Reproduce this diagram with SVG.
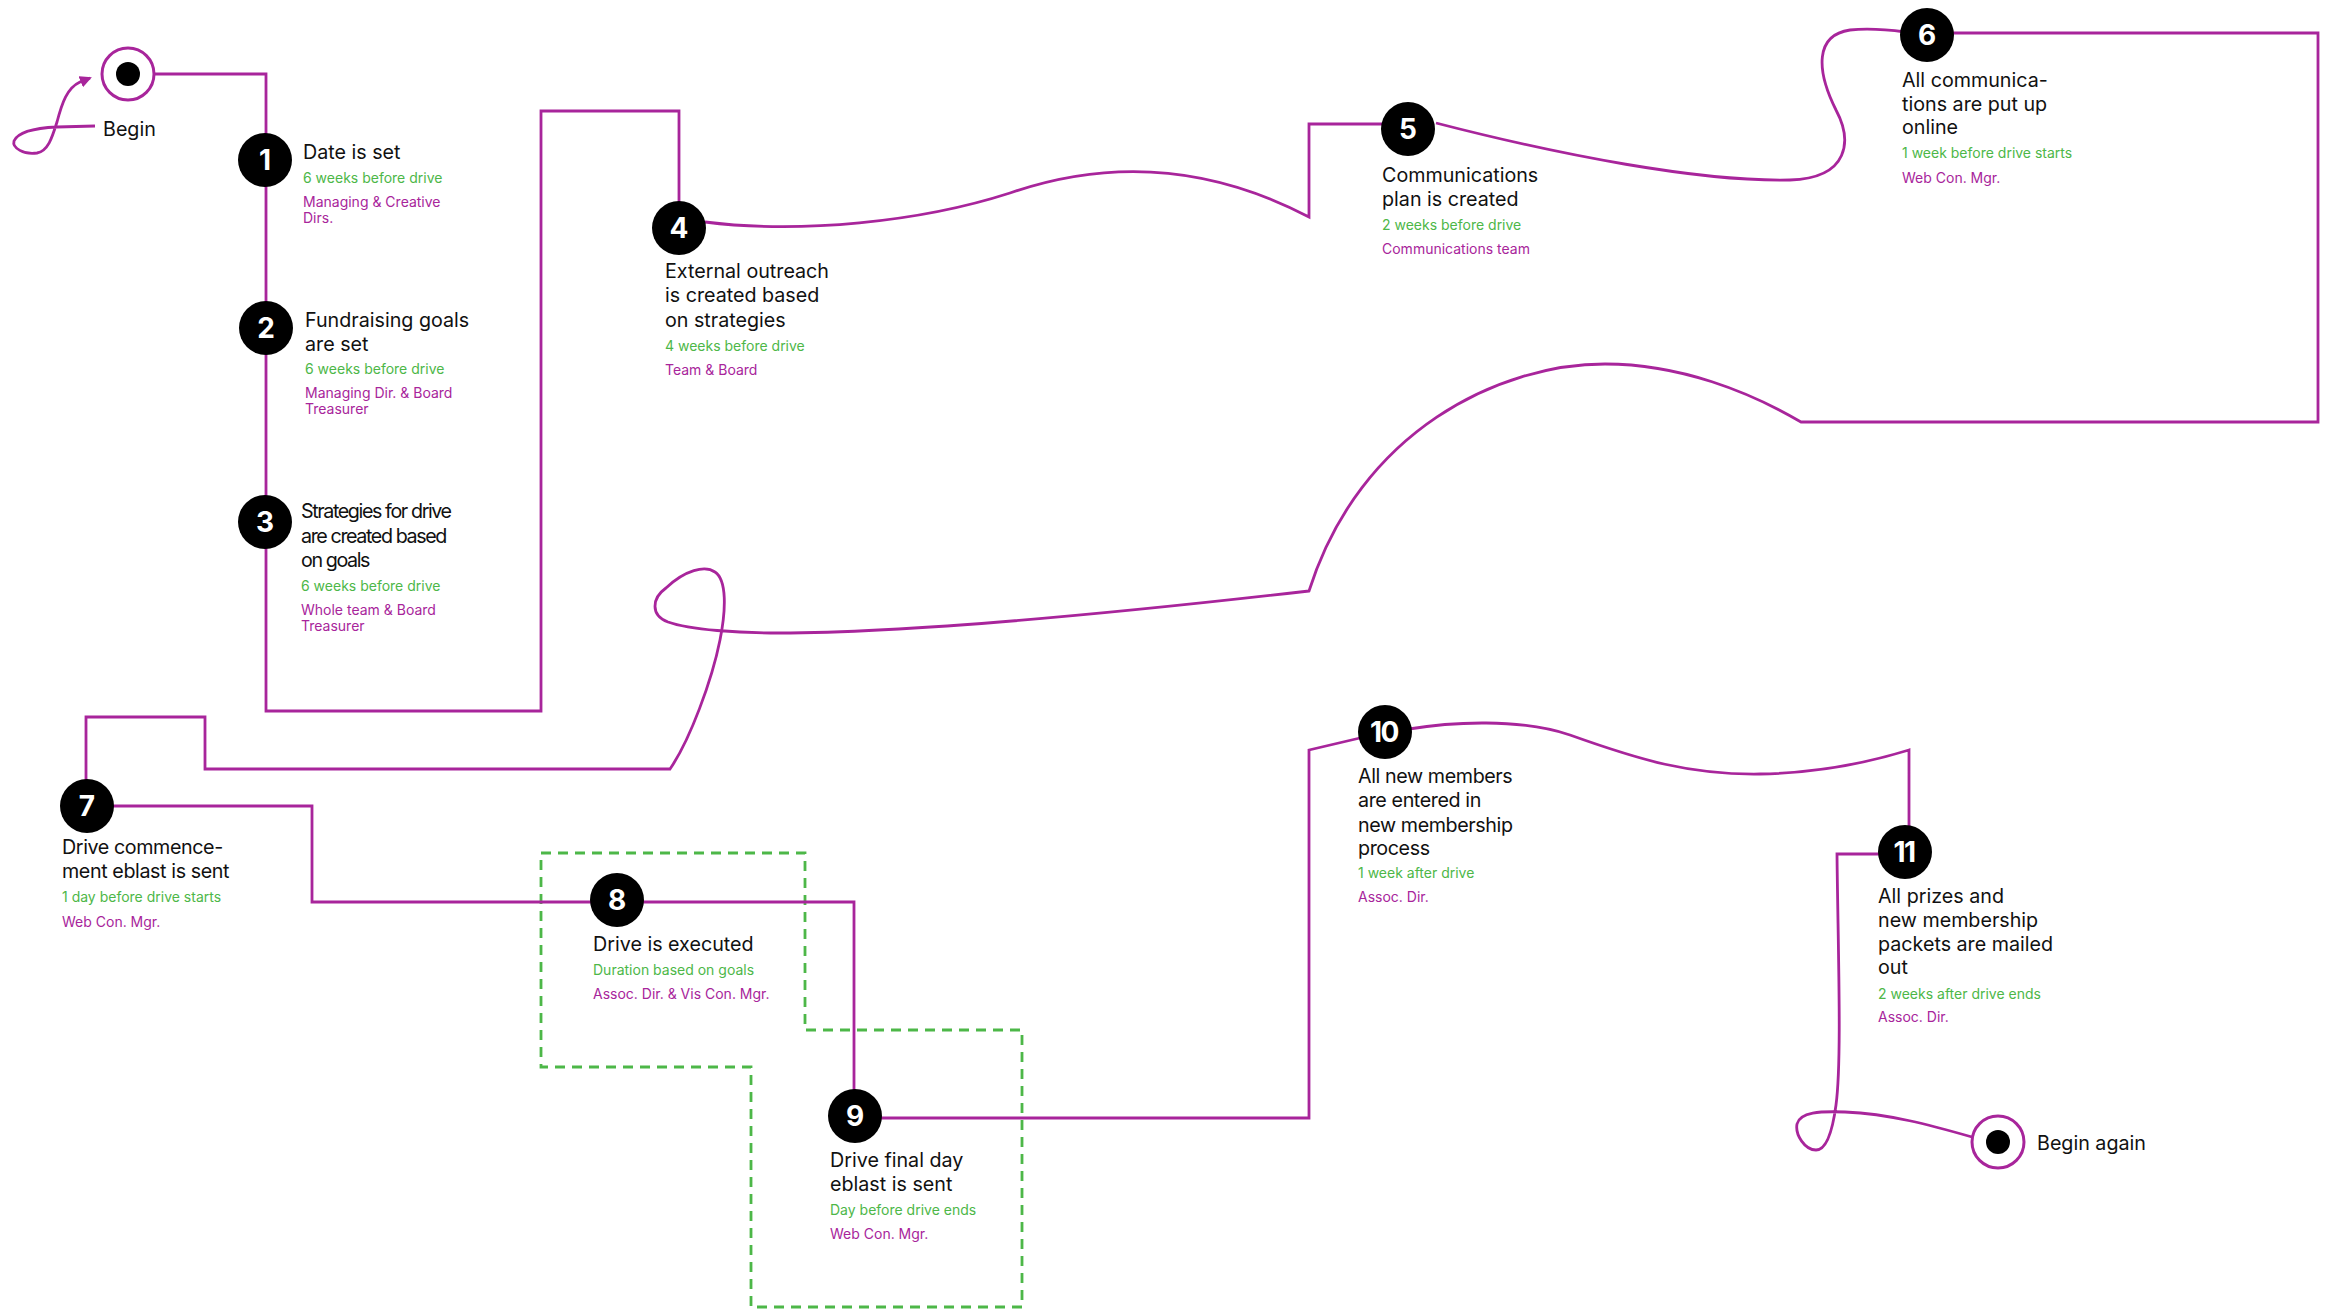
<svg xmlns="http://www.w3.org/2000/svg" width="2327" height="1309" viewBox="0 0 2327 1309">
  <defs>
    <style>
      .wire { fill: none; stroke: #a8259b; stroke-width: 2.8; stroke-linejoin: miter; }
      .frame { fill: none; stroke: #4db748; stroke-width: 2.8; stroke-dasharray: 10 7; }
      .dot { fill: #000; }
      .num { fill: #fff; font-family: Inter, "Liberation Sans", sans-serif; font-weight: 700; font-size: 28px; text-anchor: middle; }
      .title { fill: #111; font-family: Inter, "Liberation Sans", sans-serif; font-size: 19.7px; }
      .narrow { letter-spacing: -1.4px; }
      .tight { letter-spacing: -0.4px; }
      .pair { letter-spacing: -1.5px; }
      .when { fill: #4db748; font-family: Inter, "Liberation Sans", sans-serif; font-size: 14px; }
      .who { fill: #a8259b; font-family: Inter, "Liberation Sans", sans-serif; font-size: 14px; }
      .ring { fill: #fff; stroke: #a8259b; stroke-width: 3; }
    </style>
    <marker id="tip" viewBox="0 0 12 12" refX="10" refY="6" markerWidth="12" markerHeight="12" markerUnits="userSpaceOnUse" orient="auto">
      <path d="M0 0 L12 6 L0 12 z" fill="#a8259b"/>
    </marker>
  </defs>

  <!-- dashed grouping frame around steps 8 and 9 -->
  <path class="frame" d="M541 853 L805 853 L805 1030 L1022 1030 L1022 1307 L751 1307 L751 1067 L541 1067 Z"/>

  <!-- connectors -->
  <g id="connectors">
    <path class="wire" marker-end="url(#tip)" d="M95 126 L57 127 C35 128 18 132 14 141 C12 148 24 155 37 153 C48 151 52 138 57 122 C62 103 67 88 80 82 L90 78"/>
    <path class="wire" d="M155 74 L266 74 L266 711 L541 711 L541 111 L679 111 L679 228"/>
    <path class="wire" d="M705 222 C800 234 920 222 1010 193 C1100 162 1200 160 1309 217 L1309 124 L1408 124"/>
    <path class="wire" d="M1436 123 C1560 155 1700 182 1790 180 C1850 178 1852 140 1836 110 C1816 70 1815 35 1850 30 C1870 28 1890 30 1905 32"/>
    <path class="wire" d="M1927 33 L2318 33 L2318 422 L1801 422 C1750 392 1680 364 1605 364 C1500 364 1360 430 1309 591 C1100 615 900 633 779 633 C740 633 690 630 668 622 C650 615 652 598 666 588 C685 570 705 565 715 572 C727 580 726 610 720 640 C712 680 690 740 670 769 L205 769 L205 717 L86 717 L86 806"/>
    <path class="wire" d="M86 806 L312 806 L312 902 L854 902 L854 1118 L1309 1118 L1309 750 L1360 738"/>
    <path class="wire" d="M1409 729 C1450 722 1520 718 1570 735 C1640 760 1690 775 1760 774 C1820 773 1870 762 1909 750 L1909 830"/>
    <path class="wire" d="M1905 854 L1837 854 C1838 950 1842 1060 1836 1105 C1832 1135 1825 1150 1816 1150 C1805 1150 1795 1135 1797 1124 C1800 1112 1820 1111 1845 1112 C1890 1114 1930 1125 1972 1137"/>
  </g>

  <!-- start point -->
  <g id="begin">
    <circle class="ring" cx="128" cy="74" r="26"/>
    <circle class="dot" cx="128" cy="74" r="12"/>
    <text class="title" x="103" y="136">Begin</text>
  </g>

  <g id="step1">
    <circle class="dot" cx="265" cy="160" r="27"/>
    <text class="num" x="265" y="170">1</text>
    <text class="title" x="303" y="159">Date is set</text>
    <text class="when" x="303" y="183">6 weeks before drive</text>
    <text class="who" x="303" y="207">Managing &amp; Creative</text>
    <text class="who" x="303" y="223">Dirs.</text>
  </g>

  <g id="step2">
    <circle class="dot" cx="266" cy="328" r="27"/>
    <text class="num" x="266" y="338">2</text>
    <text class="title" x="305" y="327">Fundraising goals</text>
    <text class="title" x="305" y="351">are set</text>
    <text class="when" x="305" y="374">6 weeks before drive</text>
    <text class="who" x="305" y="398">Managing Dir. &amp; Board</text>
    <text class="who" x="305" y="414">Treasurer</text>
  </g>

  <g id="step3">
    <circle class="dot" cx="265" cy="522" r="27"/>
    <text class="num" x="265" y="532">3</text>
    <text class="title narrow" x="301" y="518">Strategies for drive</text>
    <text class="title narrow" x="301" y="543">are created based</text>
    <text class="title narrow" x="301" y="567">on goals</text>
    <text class="when" x="301" y="591">6 weeks before drive</text>
    <text class="who" x="301" y="615">Whole team &amp; Board</text>
    <text class="who" x="301" y="631">Treasurer</text>
  </g>

  <g id="step4">
    <circle class="dot" cx="679" cy="228" r="27"/>
    <text class="num" x="679" y="238">4</text>
    <text class="title" x="665" y="278">External outreach</text>
    <text class="title" x="665" y="302">is created based</text>
    <text class="title" x="665" y="327">on strategies</text>
    <text class="when" x="665" y="351">4 weeks before drive</text>
    <text class="who" x="665" y="375">Team &amp; Board</text>
  </g>

  <g id="step5">
    <circle class="dot" cx="1408" cy="129" r="27"/>
    <text class="num" x="1408" y="139">5</text>
    <text class="title" x="1382" y="182">Communications</text>
    <text class="title" x="1382" y="206">plan is created</text>
    <text class="when" x="1382" y="230">2 weeks before drive</text>
    <text class="who" x="1382" y="254">Communications team</text>
  </g>

  <g id="step6">
    <circle class="dot" cx="1927" cy="35" r="27"/>
    <text class="num" x="1927" y="45">6</text>
    <text class="title" x="1902" y="87">All communica-</text>
    <text class="title" x="1902" y="111">tions are put up</text>
    <text class="title" x="1902" y="134">online</text>
    <text class="when" x="1902" y="158">1 week before drive starts</text>
    <text class="who" x="1902" y="183">Web Con. Mgr.</text>
  </g>

  <g id="step7">
    <circle class="dot" cx="87" cy="806" r="27"/>
    <text class="num" x="87" y="816">7</text>
    <text class="title tight" x="62" y="854">Drive commence-</text>
    <text class="title tight" x="62" y="878">ment eblast is sent</text>
    <text class="when" x="62" y="902">1 day before drive starts</text>
    <text class="who" x="62" y="927">Web Con. Mgr.</text>
  </g>

  <g id="step8">
    <circle class="dot" cx="617" cy="900" r="27"/>
    <text class="num" x="617" y="910">8</text>
    <text class="title" x="593" y="951">Drive is executed</text>
    <text class="when" x="593" y="975">Duration based on goals</text>
    <text class="who" x="593" y="999">Assoc. Dir. &amp; Vis Con. Mgr.</text>
  </g>

  <g id="step9">
    <circle class="dot" cx="855" cy="1116" r="27"/>
    <text class="num" x="855" y="1126">9</text>
    <text class="title" x="830" y="1167">Drive final day</text>
    <text class="title" x="830" y="1191">eblast is sent</text>
    <text class="when" x="830" y="1215">Day before drive ends</text>
    <text class="who" x="830" y="1239">Web Con. Mgr.</text>
  </g>

  <g id="step10">
    <circle class="dot" cx="1385" cy="732" r="27"/>
    <text class="num pair" x="1384" y="742">10</text>
    <text class="title tight" x="1358" y="783">All new members</text>
    <text class="title tight" x="1358" y="807">are entered in</text>
    <text class="title tight" x="1358" y="832">new membership</text>
    <text class="title tight" x="1358" y="855">process</text>
    <text class="when" x="1358" y="878">1 week after drive</text>
    <text class="who" x="1358" y="902">Assoc. Dir.</text>
  </g>

  <g id="step11">
    <circle class="dot" cx="1905" cy="852" r="27"/>
    <text class="num pair" x="1904" y="862">11</text>
    <text class="title" x="1878" y="903">All prizes and</text>
    <text class="title" x="1878" y="927">new membership</text>
    <text class="title" x="1878" y="951">packets are mailed</text>
    <text class="title" x="1878" y="974">out</text>
    <text class="when" x="1878" y="999">2 weeks after drive ends</text>
    <text class="who" x="1878" y="1022">Assoc. Dir.</text>
  </g>

  <!-- end point -->
  <g id="begin-again">
    <circle class="ring" cx="1998" cy="1142" r="26"/>
    <circle class="dot" cx="1998" cy="1142" r="12"/>
    <text class="title" x="2037" y="1150">Begin again</text>
  </g>
</svg>
